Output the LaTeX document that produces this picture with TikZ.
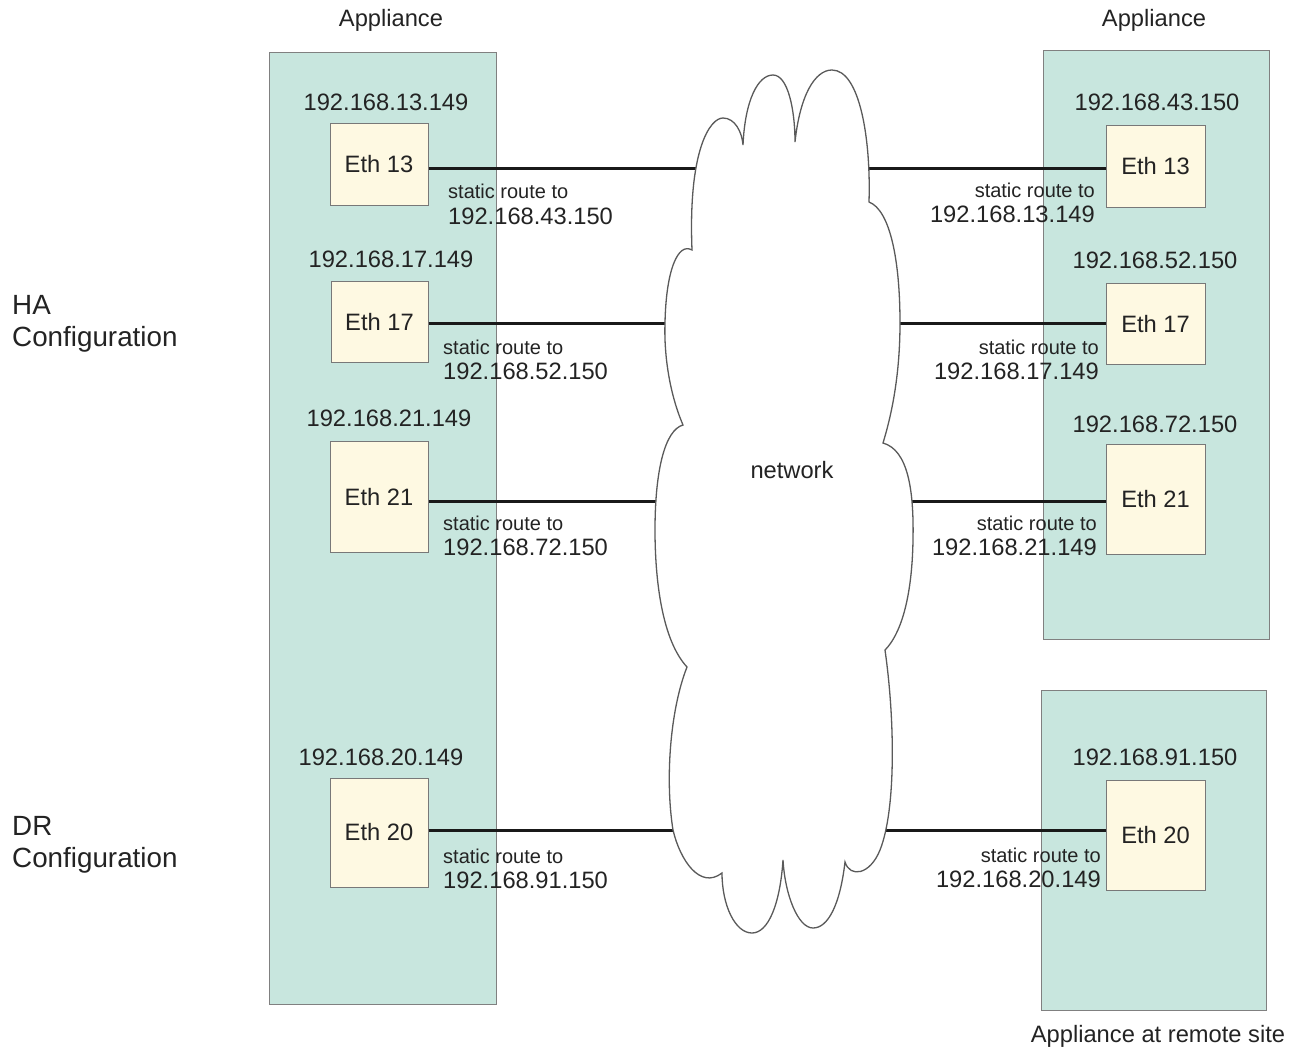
\documentclass[tikz,border=0pt]{standalone}
\usepackage{fontspec}
\setmainfont{Liberation Sans}
\definecolor{applfill}{RGB}{200,230,222}
\definecolor{applborder}{RGB}{128,128,128}
\definecolor{ethfill}{RGB}{254,249,226}
\definecolor{ethborder}{RGB}{120,120,120}
\definecolor{txt}{RGB}{35,35,35}
\definecolor{cloudline}{RGB}{90,90,90}
\begin{document}
\begin{tikzpicture}[x=1pt,y=-1pt,
  appl/.style={draw=applborder, fill=applfill, line width=1pt, inner sep=0},
  ethbox/.style={draw=ethborder, fill=ethfill, line width=1pt, inner sep=0, text=txt,
    font=\fontsize{23.7}{28}\selectfont},
  big/.style={inner sep=0, text=txt, font=\fontsize{23.7}{28}\selectfont},
  small/.style={inner sep=0, text=txt, font=\fontsize{20}{24}\selectfont},
  cfg/.style={inner sep=0, text=txt, align=left, font=\fontsize{27.8}{32}\selectfont},
  link/.style={line width=3pt, black!90},
  cloudpath/.style={draw=cloudline, line width=1.3pt, fill=white}]
\useasboundingbox (0,0) rectangle (1299,1050);

% appliance boxes
\node[appl, minimum width=227pt, minimum height=952pt] (A1) at (382.5,528) {};
\node[appl, minimum width=226pt, minimum height=589pt] (A2) at (1156,344.5) {};
\node[appl, minimum width=225pt, minimum height=320pt] (A3) at (1153.5,850) {};

% eth boxes left
\node[ethbox, minimum width=98pt, minimum height=82pt] (e13l) at (379,164) {Eth 13};
\node[ethbox, minimum width=97pt, minimum height=81pt] (e17l) at (379.5,321.5) {Eth 17};
\node[ethbox, minimum width=98pt, minimum height=111pt] (e21l) at (379,496.5) {Eth 21};
\node[ethbox, minimum width=98pt, minimum height=109pt] (e20l) at (379,832.5) {Eth 20};
% eth boxes right
\node[ethbox, minimum width=99pt, minimum height=82pt] (e13r) at (1155.5,166) {Eth 13};
\node[ethbox, minimum width=99pt, minimum height=81pt] (e17r) at (1155.5,323.5) {Eth 17};
\node[ethbox, minimum width=99pt, minimum height=110pt] (e21r) at (1155.5,499) {Eth 21};
\node[ethbox, minimum width=99pt, minimum height=110pt] (e20r) at (1155.5,835) {Eth 20};

% cloud attachment points
\coordinate (c13l) at (693,168);
\coordinate (c13r) at (870,168);
\coordinate (c17l) at (663,323);
\coordinate (c17r) at (900,323);
\coordinate (c21l) at (655,501);
\coordinate (c21r) at (913,501);
\coordinate (c20l) at (676,830);
\coordinate (c20r) at (888,830);

% links
\draw[link, shorten >=-4pt] (e13l.east |- c13l) -- (c13l);
\draw[link, shorten <=-4pt] (c13r) -- (e13r.west |- c13r);
\draw[link, shorten >=-4pt] (e17l.east |- c17l) -- (c17l);
\draw[link, shorten <=-4pt] (c17r) -- (e17r.west |- c17r);
\draw[link, shorten >=-4pt] (e21l.east |- c21l) -- (c21l);
\draw[link, shorten <=-4pt] (c21r) -- (e21r.west |- c21r);
\draw[link, shorten >=-4pt] (e20l.east |- c20l) -- (c20l);
\draw[link, shorten <=-4pt] (c20r) -- (e20r.west |- c20r);

% cloud
\draw[cloudpath] (692,250)
  .. controls (688,150) and (710,118) .. (723,118)
  .. controls (735,118) and (742,132) .. (743,145)
  .. controls (745,100) and (758,75) .. (773,75)
  .. controls (788,75) and (795,110) .. (795,142)
  .. controls (800,95) and (815,70) .. (832,70)
  .. controls (860,70) and (871,140) .. (869,202)
  .. controls (890,210) and (900,260) .. (900,323)
  .. controls (900,380) and (890,420) .. (883,443)
  .. controls (908,450) and (914,490) .. (913,540)
  .. controls (912,600) and (900,635) .. (885,650)
  .. controls (895,720) and (896,810) .. (880,850)
  .. controls (870,875) and (850,878) .. (845,862)
  .. controls (840,905) and (828,928) .. (813,928)
  .. controls (798,928) and (785,895) .. (783,860)
  .. controls (780,905) and (768,933) .. (752,933)
  .. controls (735,933) and (722,905) .. (722,873)
  .. controls (700,890) and (680,860) .. (673,830)
  .. controls (665,780) and (670,710) .. (687,667)
  .. controls (662,640) and (655,580) .. (655,530)
  .. controls (655,470) and (665,430) .. (683,425)
  .. controls (668,390) and (664,350) .. (665,323)
  .. controls (666,270) and (678,242) .. (692,250) -- cycle;
\node[big] (net) at (792,470) {network};

% titles
\node[big] (t1) at (391,20) {Appliance};
\node[big] (t2) at (1154,20) {Appliance};
\node[big] (t3) at (1158,1036) {Appliance at remote site};
\node[cfg, anchor=west] (ha) at (12,324) {HA\\Configuration};
\node[cfg, anchor=west] (dr) at (12,845) {DR\\Configuration};

% IP labels above boxes
\node[big] (ip1) at (386,102) {192.168.13.149};
\node[big] (ip2) at (391,259) {192.168.17.149};
\node[big] (ip3) at (389,418) {192.168.21.149};
\node[big] (ip4) at (381,757) {192.168.20.149};
\node[big] (ip5) at (1157,102) {192.168.43.150};
\node[big] (ip6) at (1155,260) {192.168.52.150};
\node[big] (ip7) at (1155,424) {192.168.72.150};
\node[big] (ip8) at (1155,757) {192.168.91.150};

% static routes left
\node[small, anchor=west] (s1) at (448,191) {static route to};
\node[big, anchor=west] (r1) at (448,216) {192.168.43.150};
\node[small, anchor=west] (s2) at (443,347) {static route to};
\node[big, anchor=west] (r2) at (443,371) {192.168.52.150};
\node[small, anchor=west] (s3) at (443,523) {static route to};
\node[big, anchor=west] (r3) at (443,547) {192.168.72.150};
\node[small, anchor=west] (s4) at (443,856) {static route to};
\node[big, anchor=west] (r4) at (443,880) {192.168.91.150};
% static routes right
\node[small, anchor=east] (s5) at (1095,190) {static route to};
\node[big, anchor=east] (r5) at (1095,214) {192.168.13.149};
\node[small, anchor=east] (s6) at (1099,347) {static route to};
\node[big, anchor=east] (r6) at (1099,371) {192.168.17.149};
\node[small, anchor=east] (s7) at (1097,523) {static route to};
\node[big, anchor=east] (r7) at (1097,547) {192.168.21.149};
\node[small, anchor=east] (s8) at (1101,855) {static route to};
\node[big, anchor=east] (r8) at (1101,879) {192.168.20.149};
\end{tikzpicture}
\end{document}
